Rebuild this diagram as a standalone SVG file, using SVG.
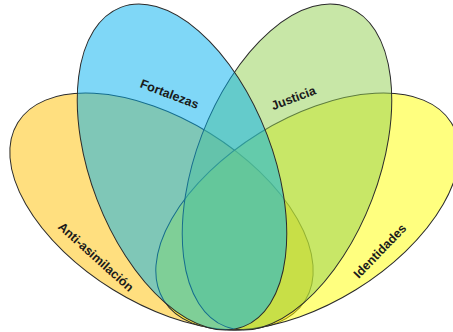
<svg xmlns="http://www.w3.org/2000/svg" width="453" height="332" viewBox="0 0 453 332">
<style>
.e{fill-opacity:0.5;stroke:#2b2b2b;stroke-width:1}
.t{font-family:"Liberation Sans",Arial,sans-serif;font-weight:bold;font-size:12.5px;fill:#1a1a1a;text-anchor:middle}
</style>
<rect width="453" height="332" fill="#ffffff"/>
<g id="anti-asimilacion">
<ellipse class="e" fill="#FFC000" cx="161.5" cy="211.5" rx="169" ry="92" transform="rotate(31.7 161.5 211.5)"/>
</g>
<g id="identidades">
<ellipse class="e" fill="#FFFF00" cx="307.5" cy="211.5" rx="169" ry="92" transform="rotate(-31.7 307.5 211.5)"/>
</g>
<g id="justicia">
<ellipse class="e" fill="#92D050" cx="287" cy="167" rx="171" ry="91" transform="rotate(-69 287 167)"/>
</g>
<g id="fortalezas">
<ellipse class="e" fill="#00B0F0" cx="182" cy="167" rx="171" ry="91" transform="rotate(69 182 167)"/>
</g>
<g id="labels">
<text class="t" transform="translate(168 98) rotate(21)">Fortalezas</text>
<text class="t" transform="translate(295 102) rotate(-21)">Justicia</text>
<text class="t" transform="translate(93 260) rotate(42)">Anti-asimilación</text>
<text class="t" transform="translate(383 254) rotate(-46)">Identidades</text>
</g>
<g id="connectors"/>
</svg>
